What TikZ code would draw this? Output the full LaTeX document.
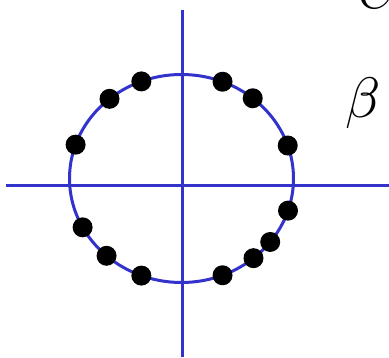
\documentclass[tikz,border=0pt]{standalone}
\usepackage{tikz}
\usepackage{graphicx}
\usetikzlibrary{calc}
\definecolor{axisBlue}{RGB}{51,51,204}

\begin{document}
\begin{tikzpicture}[
  x=1pt, y=1pt,
  axis/.style={draw=axisBlue, line width=3pt},
  dot/.style={circle, fill=black, inner sep=0pt, minimum size=20pt},
  sym/.style={inner sep=0pt},
]
  \useasboundingbox (0,0) rectangle (389,357);
  \coordinate (c) at (181.5,178.5);
  \coordinate (xl) at (6,171.5);
  \coordinate (xr) at (389,171.5);
  \coordinate (yt) at (182,347);
  \coordinate (yb) at (182,0);
  % axes and unit circle
  \draw[axis] (xl) -- (xr);
  \draw[axis] (yt) -- (yb);
  \draw[axis] (c) ellipse [x radius=112, y radius=104];
  % roots on the circle
  \foreach \a [count=\i] in {111,130,161,208,228,249,68.5,50.5,18.5,-18,-37.6,-50,-68.5}
    \path (c) ++(\a:112 and 104) node[dot] (d\i) {};
  \node[sym, anchor=south] (lblC) at (378,348) {\scalebox{5}{$C$}};
  \node[sym] (lblBeta) at (363,254) {\scalebox{5.7}{$\beta$}};
\end{tikzpicture}
\end{document}
